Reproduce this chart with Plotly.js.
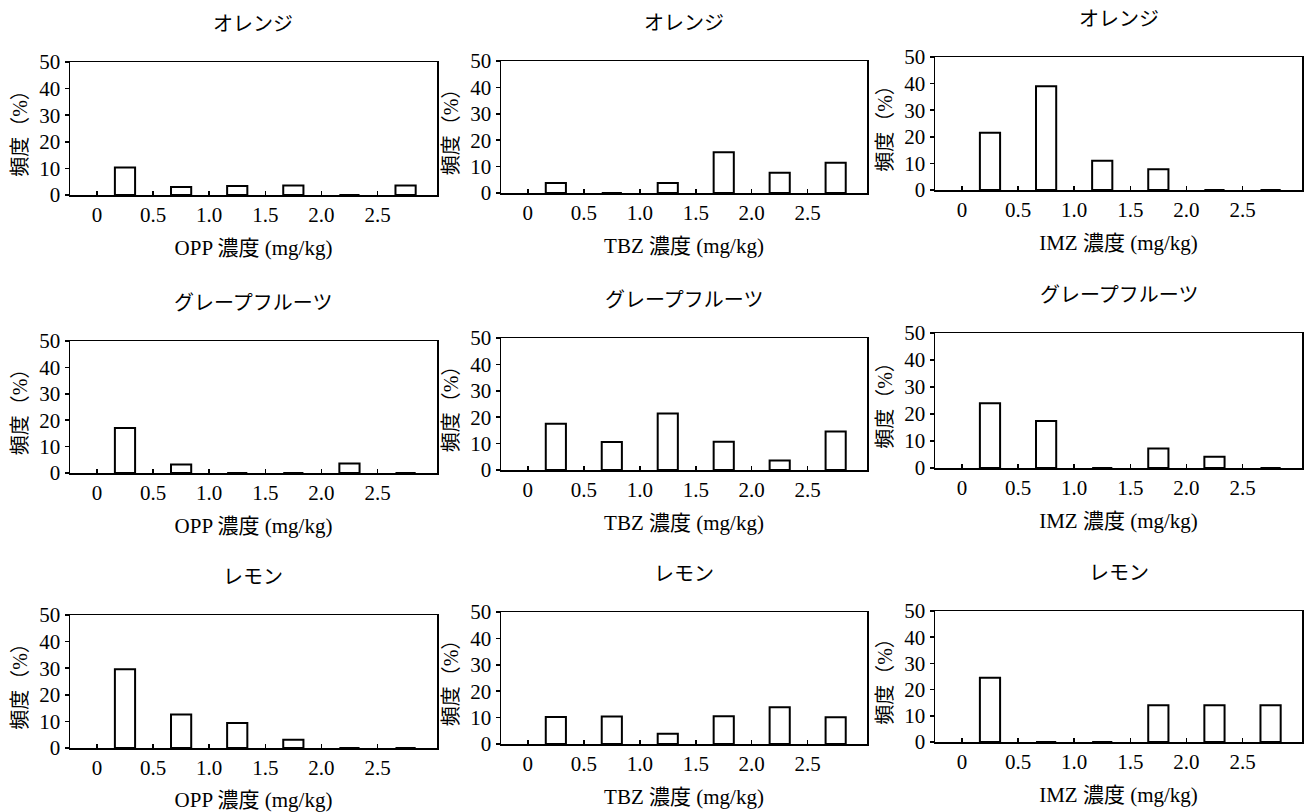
<!DOCTYPE html>
<html><head><meta charset="utf-8">
<script src="https://cdn.plot.ly/plotly-3.0.1.min.js"></script>
<style>html,body{margin:0;padding:0;background:#fff}</style>
</head><body><div id="chart" style="width:1304px;height:812px"></div>
<script>
// ---- data ----
const binCenters = [0.25, 0.75, 1.25, 1.75, 2.25, 2.75];
const xTickVals = [0, 0.5, 1, 1.5, 2, 2.5];
const xTickText = ['0', '0.5', '1.0', '1.5', '2.0', '2.5'];
const yTickVals = [0, 10, 20, 30, 40, 50];
const fruits = ['オレンジ', 'グレープフルーツ', 'レモン'];
const chemicals = ['OPP', 'TBZ', 'IMZ'];
const orangeOPP = [10.3, 3.0, 3.4, 3.6, 0, 3.6];
const orangeTBZ = [3.8, 0, 3.8, 15.4, 7.7, 11.5];
const orangeIMZ = [21.5, 39.0, 11.0, 7.8, 0, 0];
const grapefruitOPP = [17.0, 3.2, 0, 0, 3.6, 0];
const grapefruitTBZ = [17.5, 10.6, 21.4, 10.7, 3.6, 14.6];
const grapefruitIMZ = [24.0, 17.4, 0, 7.2, 4.2, 0];
const lemonOPP = [29.6, 12.6, 9.4, 3.1, 0, 0];
const lemonTBZ = [10.2, 10.4, 3.9, 10.5, 13.9, 10.1];
const lemonIMZ = [24.5, 0, 0, 14.0, 14.0, 14.0];

const series = [
  [orangeOPP, orangeTBZ, orangeIMZ],
  [grapefruitOPP, grapefruitTBZ, grapefruitIMZ],
  [lemonOPP, lemonTBZ, lemonIMZ]
];

// ---- layout geometry (pixels) ----
const W = 1304, H = 812;
const colX = [[70, 437], [501, 867], [935, 1302]];
const rowY = [
  [[62, 195], [61, 193], [57, 190]],
  [[341, 473], [338, 470], [333, 468]],
  [[615, 748], [612, 744], [611, 742]]
];
const FONT = 'Liberation Serif, Noto Sans CJK JP, serif';

const data = [];
const layout = {
  width: W, height: H,
  margin: {l: 0, r: 0, t: 0, b: 0},
  paper_bgcolor: '#fff', plot_bgcolor: '#fff',
  showlegend: false,
  font: {family: FONT, color: '#000'},
  annotations: []
};

let k = 0;
for (let r = 0; r < 3; r++) {
  for (let c = 0; c < 3; c++) {
    k++;
    const sfx = k === 1 ? '' : String(k);
    data.push({
      type: 'bar',
      x: binCenters,
      y: series[r][c],
      width: 0.18,
      marker: {color: '#fff', line: {color: '#000', width: 2}},
      xaxis: 'x' + sfx, yaxis: 'y' + sfx,
      hoverinfo: 'x+y'
    });
    const [x0, x1] = colX[c];
    const [y0, y1] = rowY[r][c];
    layout['xaxis' + sfx] = {
      domain: [x0 / W, x1 / W],
      anchor: 'y' + sfx,
      range: [-0.24, 3.03],
      tickvals: xTickVals, ticktext: xTickText,
      ticks: 'inside', ticklen: 4, tickcolor: '#000', tickwidth: 1.5,
      showline: true, linecolor: '#000', linewidth: 1.5, mirror: true,
      showgrid: false, zeroline: false,
      tickfont: {family: FONT, size: 21, color: '#000'},
      title: {text: chemicals[c] + ' 濃度 (mg/kg)', font: {family: FONT, size: 21, color: '#000'}, standoff: 14},
      automargin: false, fixedrange: true
    };
    layout['yaxis' + sfx] = {
      domain: [1 - y1 / H, 1 - y0 / H],
      anchor: 'x' + sfx,
      range: [0, 50],
      tickvals: yTickVals,
      ticks: 'outside', ticklen: 4, tickcolor: '#000', tickwidth: 1.5,
      showline: true, linecolor: '#000', linewidth: 1.5, mirror: true,
      showgrid: false, zeroline: false,
      tickfont: {family: FONT, size: 21, color: '#000'},
      title: {text: '頻度（%）', font: {family: FONT, size: 20, color: '#000'}, standoff: 6},
      automargin: false, fixedrange: true
    };
    layout.annotations.push({
      text: fruits[r],
      xref: 'paper', yref: 'paper',
      x: (x0 + x1) / 2 / W, y: 1 - (y0 - 38) / H,
      xanchor: 'center', yanchor: 'middle',
      showarrow: false,
      font: {family: FONT, size: 20, color: '#000'}
    });
  }
}

Plotly.newPlot('chart', data, layout, {displayModeBar: false, staticPlot: true});
</script>
</body></html>
